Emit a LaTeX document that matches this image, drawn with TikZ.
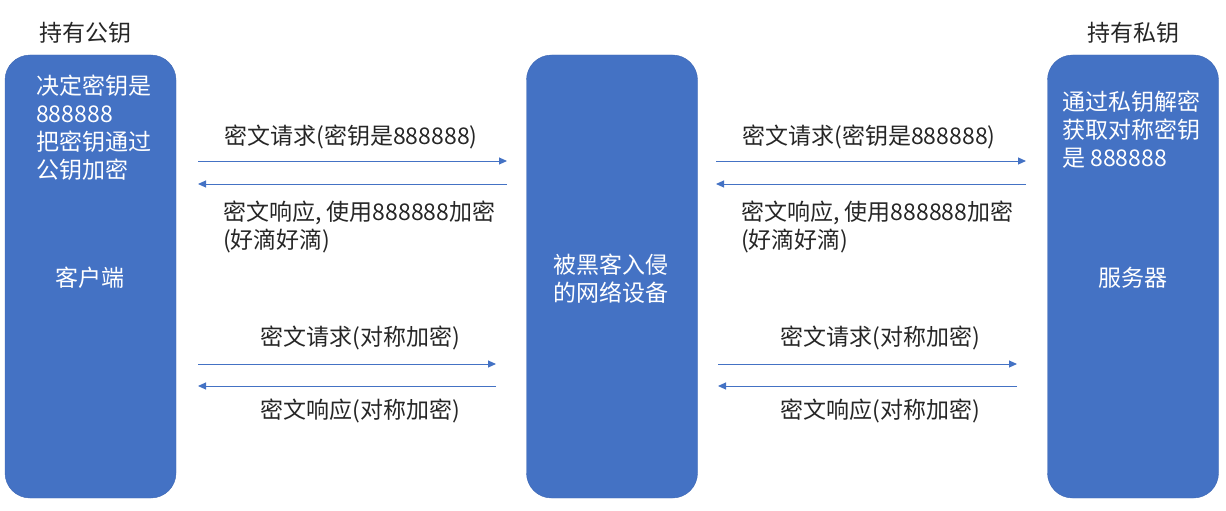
\documentclass[tikz,border=0pt]{standalone}
\usepackage{fontspec}
\setmainfont{Noto Sans CJK SC}
\usetikzlibrary{arrows.meta}
\definecolor{boxblue}{HTML}{4472C4}
\definecolor{boxedge}{HTML}{3D67B3}
\newcommand\txtsize{\fontsize{23}{28}\selectfont}

\tikzset{
  hostbox/.style={draw=boxedge,fill=boxblue,rounded corners=25pt,
    minimum width=171pt,minimum height=443pt,inner sep=0pt},
  boxtext/.style={text=white,align=left,inner sep=0pt,font=\txtsize},
  msgtext/.style={text=black!85,align=left,inner sep=0pt,font=\txtsize},
  msg/.style={draw=boxblue,line width=1pt,-{Triangle[length=8pt,width=7pt]}}
}

\begin{document}
\begin{tikzpicture}[x=1pt,y=-1pt]
      \useasboundingbox (0,0) rectangle (1226,511) ;
      % the three hosts
      \node[hostbox] (client) at (90.5,276.5) {} ;
      \node[hostbox] (hacker) at (612,276.5) {} ;
      \node[hostbox] (server) at (1133,276.5) {} ;
      \node[msgtext] (pubkey) at (85,33) {持有公钥} ;
      \node[msgtext] (prikey) at (1133,33) {持有私钥} ;
      \node[boxtext,anchor=west] (clientnote) at (36,128) %
      {决定密钥是\\888888\\把密钥通过\\公钥加密} ;
      \node[boxtext] (clientname) at (90,278) {客户端} ;
      \node[boxtext,anchor=west] (hackername) at (553,278.5) %
      {被黑客入侵\\的网络设备} ;
      \node[boxtext,anchor=west] (servernote) at (1062,129.5) %
      {通过私钥解密\\获取对称密钥\\是 888888} ;
      \node[boxtext] (servername) at (1133,278) {服务器} ;
      % end points of the messages
      \coordinate (lA) at (198,161) ; \coordinate (rA) at (507,161) ;
      \coordinate (lB) at (198,184) ; \coordinate (rB) at (507,184) ;
      \coordinate (lC) at (716,161) ; \coordinate (rC) at (1026,161) ;
      \coordinate (lD) at (716,184) ; \coordinate (rD) at (1026,184) ;
      \coordinate (lE) at (198,364) ; \coordinate (rE) at (496,364) ;
      \coordinate (lF) at (198,386) ; \coordinate (rF) at (496,386) ;
      \coordinate (lG) at (718,364) ; \coordinate (rG) at (1017,364) ;
      \coordinate (lH) at (718,386) ; \coordinate (rH) at (1017,386) ;
      \draw[msg] (lA) -- (rA) ;
      \draw[msg] (rB) -- (lB) ;
      \draw[msg] (lC) -- (rC) ;
      \draw[msg] (rD) -- (lD) ;
      \draw[msg] (lE) -- (rE) ;
      \draw[msg] (rF) -- (lF) ;
      \draw[msg] (lG) -- (rG) ;
      \draw[msg] (rH) -- (lH) ;
      % labels of the messages
      \node[msgtext] (reqA) at (351,137) {密文请求(密钥是888888)} ;
      \node[msgtext,anchor=west] (resA) at (223,227) %
      {密文响应, 使用888888加密\\(好滴好滴)} ;
      \node[msgtext] (reqC) at (869,137) {密文请求(密钥是888888)} ;
      \node[msgtext,anchor=west] (resC) at (741,227) %
      {密文响应, 使用888888加密\\(好滴好滴)} ;
      \node[msgtext] (reqE) at (360,338) {密文请求(对称加密)} ;
      \node[msgtext] (resE) at (360,411) {密文响应(对称加密)} ;
      \node[msgtext] (reqG) at (880,338) {密文请求(对称加密)} ;
      \node[msgtext] (resG) at (880,411) {密文响应(对称加密)} ;
    \end{tikzpicture}
\end{document}
